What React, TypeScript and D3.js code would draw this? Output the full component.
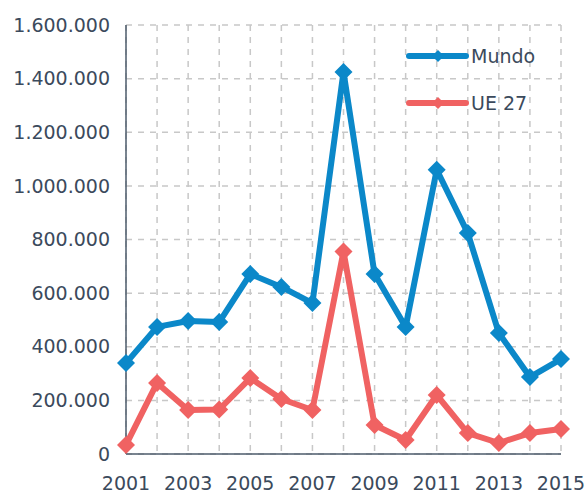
import React from "react";
import * as d3 from "d3";

const years = [2001, 2002, 2003, 2004, 2005, 2006, 2007, 2008, 2009, 2010, 2011, 2012, 2013, 2014, 2015];
const mundo = [339000, 474000, 496000, 492000, 671000, 623000, 563000, 1425000, 671000, 474000, 1060000, 824000, 451000, 287000, 354000];
const ue27 = [34000, 265000, 164000, 166000, 283000, 205000, 164000, 755000, 108000, 52000, 220000, 78000, 41000, 78000, 93000];
const yTicks = [0, 200000, 400000, 600000, 800000, 1000000, 1200000, 1400000, 1600000];
const xTickYears = [2001, 2003, 2005, 2007, 2009, 2011, 2013, 2015];
const seriesNames = ["Mundo", "UE 27"];
const colors = ["#0b88c9", "#f06262"];

const W = 586, H = 494;
const left = 126, right = 561, top = 25, bottom = 454;

export default function App() {
  const x = d3.scaleLinear().domain([2001, 2015]).range([left, right]);
  const y = d3.scaleLinear().domain([0, 1600000]).range([bottom, top]);
  const fmt = (v: number) => d3.format(",")(v).replace(/,/g, ".");
  const line = d3.line<number>().x((_, i) => x(years[i])).y((d) => y(d));
  const diamond = (cx: number, cy: number, r: number) =>
    `M${cx},${cy - r}L${cx + r},${cy}L${cx},${cy + r}L${cx - r},${cy}Z`;
  const data = [mundo, ue27];
  const font = "'DejaVu Sans', sans-serif";
  const textColor = "#3b4a5c";
  return (
    <svg width={W} height={H} style={{ position: "absolute", left: 0, top: 0 }}>
      <rect width={W} height={H} fill="#fff" />
      {yTicks.map((t) => (
        <line key={"h" + t} x1={left} x2={right} y1={y(t)} y2={y(t)} stroke="#c8c8c8" strokeWidth={1.5} strokeDasharray="6,6" />
      ))}
      {years.map((yr) => (
        <line key={"v" + yr} x1={x(yr)} x2={x(yr)} y1={top} y2={bottom} stroke="#c8c8c8" strokeWidth={1.5} strokeDasharray="6,6" />
      ))}
      <line x1={left} x2={left} y1={top} y2={bottom} stroke="#4d5b6b" strokeWidth={1.5} />
      <line x1={left} x2={right} y1={bottom} y2={bottom} stroke="#4d5b6b" strokeWidth={1.5} />
      {yTicks.map((t) => (
        <text key={"yl" + t} x={110} y={y(t)} dy="0.35em" textAnchor="end" fontFamily={font} fontSize={19} fill={textColor}>
          {fmt(t)}
        </text>
      ))}
      {xTickYears.map((yr) => (
        <text key={"xl" + yr} x={x(yr)} y={490} textAnchor="middle" fontFamily={font} fontSize={19} fill={textColor}>
          {yr}
        </text>
      ))}
      {data.map((s, si) => (
        <g key={"s" + si}>
          <path d={line(s) || ""} fill="none" stroke={colors[si]} strokeWidth={6} strokeLinejoin="round" />
          {s.map((v, i) => (
            <path key={i} d={diamond(x(years[i]), y(v), 9)} fill={colors[si]} />
          ))}
        </g>
      ))}
      {seriesNames.map((n, i) => {
        const ly = 56 + i * 47;
        return (
          <g key={"lg" + n}>
            <line x1={409} x2={466} y1={ly} y2={ly} stroke={colors[i]} strokeWidth={6} strokeLinecap="round" />
            <path d={diamond(438, ly, 6)} fill={colors[i]} />
            <text x={471} y={ly} dy="0.35em" fontFamily={font} fontSize={19} fill={textColor}>
              {n}
            </text>
          </g>
        );
      })}
    </svg>
  );
}
